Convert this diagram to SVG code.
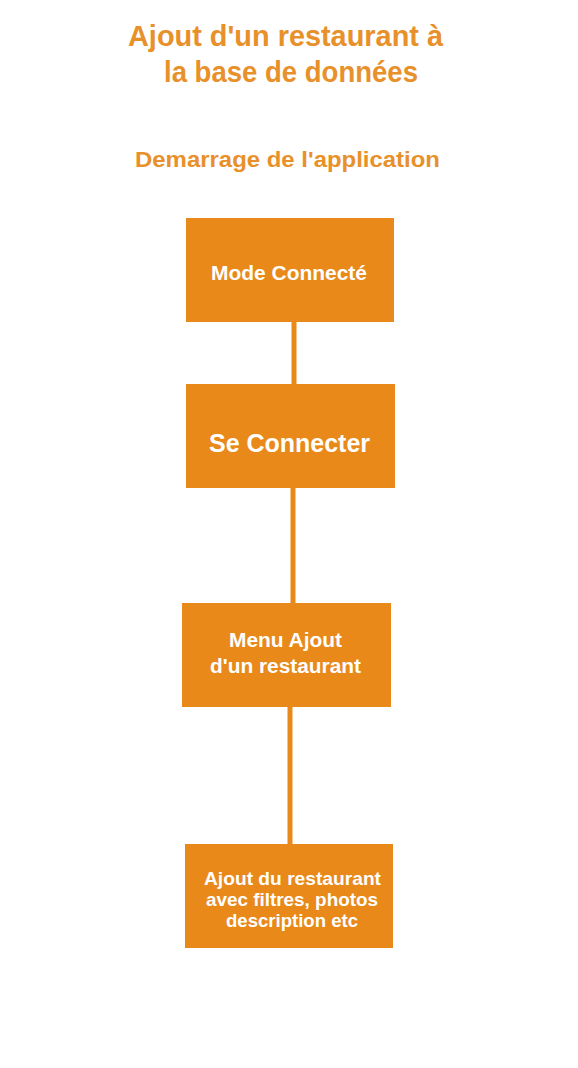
<svg xmlns="http://www.w3.org/2000/svg" width="578" height="1068" viewBox="0 0 578 1068">
<style>
.title{font-family:"Liberation Sans",Arial,sans-serif;font-weight:bold;fill:#E8902A;text-anchor:middle}
.box{fill:#E8891A}
.lbl{font-family:"Liberation Sans",Arial,sans-serif;font-weight:bold;fill:#FFFFFF;text-anchor:middle}
.conn{stroke:#E8891A;stroke-width:5;fill:none}
</style>
<rect width="578" height="1068" fill="#FFFFFF"/>
<g id="title">
<text class="title" x="285.5" y="46" font-size="30" textLength="315" lengthAdjust="spacingAndGlyphs">Ajout d'un restaurant à</text>
<text class="title" x="291" y="82" font-size="30" textLength="254" lengthAdjust="spacingAndGlyphs">la base de données</text>
<text class="title" x="287.5" y="167" font-size="22" textLength="305" lengthAdjust="spacingAndGlyphs">Demarrage de l'application</text>
</g>
<g id="connectors">
<line class="conn" x1="294" y1="322" x2="294" y2="384"/>
<line class="conn" x1="293" y1="488" x2="293" y2="603"/>
<line class="conn" x1="290" y1="707" x2="290" y2="844"/>
</g>
<g id="node-mode-connecte">
<rect class="box" x="186" y="218" width="208" height="104"/>
<text class="lbl" x="289" y="280" font-size="21" textLength="156" lengthAdjust="spacingAndGlyphs">Mode Connecté</text>
</g>
<g id="node-se-connecter">
<rect class="box" x="186" y="384" width="209" height="104"/>
<text class="lbl" x="289.5" y="452" font-size="26" textLength="161" lengthAdjust="spacingAndGlyphs">Se Connecter</text>
</g>
<g id="node-menu-ajout">
<rect class="box" x="182" y="603" width="209" height="104"/>
<text class="lbl" x="285.5" y="647" font-size="20" textLength="113" lengthAdjust="spacingAndGlyphs">Menu Ajout</text>
<text class="lbl" x="285.5" y="673" font-size="20" textLength="151" lengthAdjust="spacingAndGlyphs">d'un restaurant</text>
</g>
<g id="node-ajout-restaurant">
<rect class="box" x="185" y="844" width="208" height="104"/>
<text class="lbl" x="292.5" y="885" font-size="19" textLength="177" lengthAdjust="spacingAndGlyphs">Ajout du restaurant</text>
<text class="lbl" x="292" y="906" font-size="19" textLength="172" lengthAdjust="spacingAndGlyphs">avec filtres, photos</text>
<text class="lbl" x="292" y="927" font-size="19" textLength="132" lengthAdjust="spacingAndGlyphs">description etc</text>
</g>
</svg>
